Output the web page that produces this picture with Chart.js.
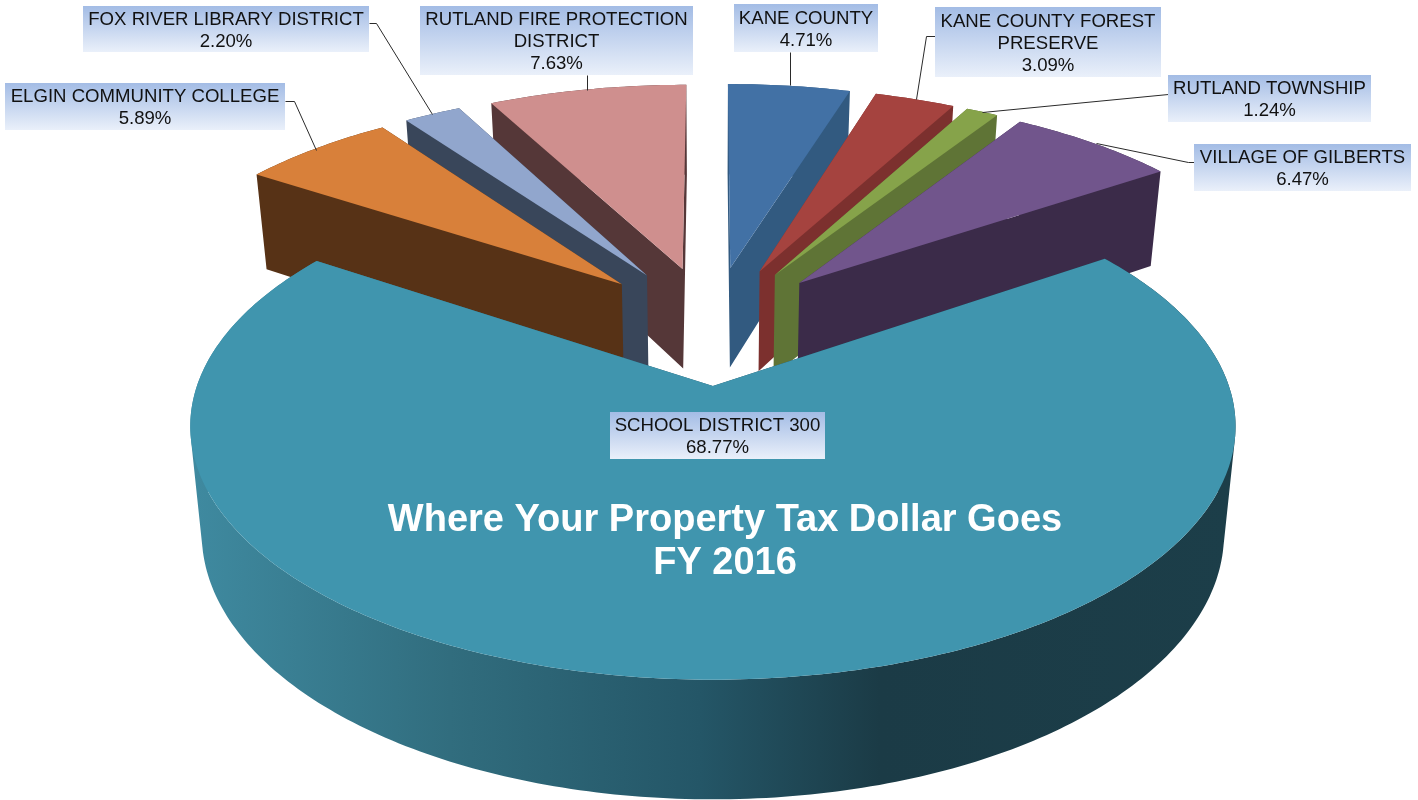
<!DOCTYPE html>
<html><head><meta charset="utf-8">
<style>html,body{margin:0;padding:0;background:#fff}canvas{display:block}</style>
<script src="https://cdn.jsdelivr.net/npm/chart.js@4"></script>
</head><body>
<canvas id="c" width="1418" height="800"></canvas>
<script>
const categories = ['KANE COUNTY','KANE COUNTY FOREST PRESERVE','RUTLAND TOWNSHIP','VILLAGE OF GILBERTS','SCHOOL DISTRICT 300','ELGIN COMMUNITY COLLEGE','FOX RIVER LIBRARY DISTRICT','RUTLAND FIRE PROTECTION DISTRICT'];
const shares = [4.71,3.09,1.24,6.47,68.77,5.89,2.20,7.63];
const labelLines = [['KANE COUNTY'],['KANE COUNTY FOREST','PRESERVE'],['RUTLAND TOWNSHIP'],['VILLAGE OF GILBERTS'],['SCHOOL DISTRICT 300'],['ELGIN COMMUNITY COLLEGE'],['FOX RIVER LIBRARY DISTRICT'],['RUTLAND FIRE PROTECTION','DISTRICT']];
const titleLines = ['Where Your Property Tax Dollar Goes','FY 2016'];
const topColors = ['#4271a5','#a5433f','#86a34a','#71558c','#4095ae','#d8803a','#91a6cd','#cf8f8e'];
const sideColors = ['#325a80','#7c302e','#5f7436','#3b2b49',null,'#573216','#39465a','#553738'];
// label boxes [x0,y0,x1,y1] and their leader lines
const boxes = [[734,4,878,52],[935,7,1161,77],[1168,75,1371,122],[1194,144,1411,191],[610,412,825,459],[5,83,285,130],[83,6,369,52],[420,6,693,75]];
const leaders = [[[790,52],[790,85]],[[935,36],[926,36],[916,99]],[[1168,94],[982,112]],[[1194,162],[1188,162],[1096,143]],null,[[285,101],[294,101],[316,150]],[[369,23],[376,23],[432,114]],[[587,75],[587,90]]];
// perspective camera of the ground plane
const cam = {x0:712,y0:386,rx:516,ry:247,k:0.159,vc:0.26,depth:105.4,depthPow:0.733,shrink:0.978};
const explode = 0.26, baseRadius = 200;

function projector(el){
  const R = el.outerRadius;
  return (px,py)=>{
    const u=(px-el.x)/R, v=-(py-el.y)/R+cam.vc, w=1+cam.k*v;
    return {x:cam.x0+cam.rx*u/w, y:cam.y0-cam.ry*v/w, w};
  };
}
function outline(el){
  const p=el.getProps(['x','y','startAngle','endAngle','outerRadius'],true);
  const mid=(p.startAngle+p.endAngle)/2, off=explode*p.outerRadius;
  const ox=p.x+off*Math.cos(mid), oy=p.y+off*Math.sin(mid);
  const proj=projector(p), pts=[proj(ox,oy)];
  const n=Math.max(4,Math.ceil((p.endAngle-p.startAngle)/0.015));
  for(let i=0;i<=n;i++){
    const a=p.startAngle+(p.endAngle-p.startAngle)*i/n;
    pts.push(proj(ox+p.outerRadius*Math.cos(a),oy+p.outerRadius*Math.sin(a)));
  }
  return {pts,mid};
}
function lower(q){
  return {x:cam.x0+(q.x-cam.x0)*cam.shrink, y:q.y+cam.depth/Math.pow(q.w,cam.depthPow)};
}
function fillTop(ctx,pts,style){
  ctx.fillStyle=style;ctx.beginPath();
  pts.forEach((q,i)=>i?ctx.lineTo(q.x,q.y):ctx.moveTo(q.x,q.y));
  ctx.closePath();ctx.fill();
}
// the wall is a union of edge quads, all wound the same way, filled as one path
function fillWalls(ctx,pts,style){
  ctx.fillStyle=style;ctx.beginPath();
  const n=pts.length;
  for(let i=0;i<n;i++){
    const a=pts[i],b=pts[(i+1)%n],c=lower(b),d=lower(a);
    let q=[a,b,c,d], area=0;
    q.forEach((s,j)=>{const e=q[(j+1)%4];area+=s.x*e.y-e.x*s.y;});
    if(area<0) q=q.reverse();
    q.forEach((s,j)=>j?ctx.lineTo(s.x,s.y):ctx.moveTo(s.x,s.y));
    ctx.closePath();
  }
  ctx.fill();
}
const pie3d={
  id:'pie3d',
  beforeDatasetsDraw(chart){
    const ctx=chart.ctx, arcs=chart.getDatasetMeta(0).data;
    const g=ctx.createLinearGradient(190,0,1235,0);
    g.addColorStop(0,'#3f8aa0');g.addColorStop(0.249,'#316d7e');g.addColorStop(0.488,'#245667');g.addColorStop(0.66,'#1b3b46');g.addColorStop(1,'#1c3e49');
    const items=arcs.map((el,i)=>({i,...outline(el)})).sort((a,b)=>Math.sin(-b.mid)-Math.sin(-a.mid));
    items.forEach(it=>{
      fillWalls(ctx,it.pts,sideColors[it.i]||g);
      fillTop(ctx,it.pts,topColors[it.i]);
    });
    return false;
  },
  afterDraw(chart){
    const ctx=chart.ctx;
    ctx.save();
    ctx.strokeStyle='#2a2a2a';ctx.lineWidth=1;
    leaders.forEach(l=>{ if(!l)return;
      ctx.beginPath();l.forEach((q,i)=>i?ctx.lineTo(q[0]+.5,q[1]+.5):ctx.moveTo(q[0]+.5,q[1]+.5));ctx.stroke();});
    ctx.textAlign='center';ctx.textBaseline='middle';
    boxes.forEach((b,i)=>{
      const lg=ctx.createLinearGradient(0,b[1],0,b[3]);
      lg.addColorStop(0,'#a3bce5');lg.addColorStop(1,'#eaf0fa');
      ctx.fillStyle=lg;ctx.fillRect(b[0],b[1],b[2]-b[0],b[3]-b[1]);
      const lines=[...labelLines[i],shares[i].toFixed(2)+'%'];
      ctx.fillStyle='#111';ctx.font='18.6px "Liberation Sans", Arial, sans-serif';
      const cx=(b[0]+b[2])/2, cy=(b[1]+b[3])/2+1.5, lh=22;
      lines.forEach((s,j)=>ctx.fillText(s,cx,cy+(j-(lines.length-1)/2)*lh));
    });
    ctx.fillStyle='#fff';ctx.font='bold 38px "Liberation Sans", Arial, sans-serif';
    titleLines.forEach((s,j)=>ctx.fillText(s,725,521+j*43));
    ctx.restore();
  }
};
new Chart(document.getElementById('c'),{
  type:'pie',
  data:{labels:categories,datasets:[{data:shares,backgroundColor:topColors,borderWidth:0}]},
  options:{responsive:false,animation:false,events:[],radius:baseRadius,rotation:0,
    plugins:{legend:{display:false},tooltip:{enabled:false},title:{display:false}}},
  plugins:[pie3d]
});
</script>
</body></html>
